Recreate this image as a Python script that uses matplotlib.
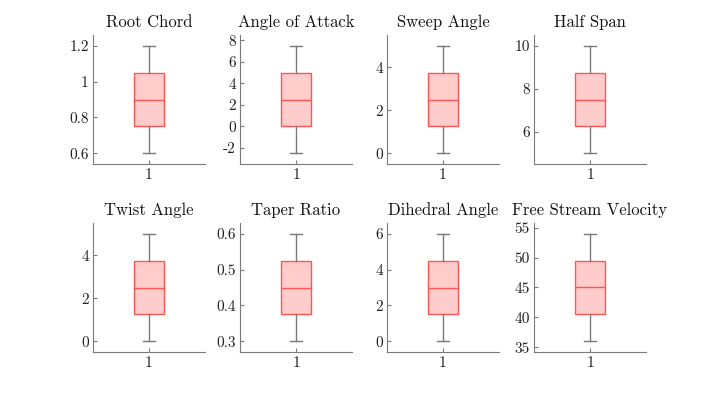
import numpy as np
import matplotlib
matplotlib.use('Agg')
import matplotlib.pyplot as plt
from matplotlib.ticker import FuncFormatter

plt.rcParams['font.family'] = ['cmr10', 'DejaVu Serif']
plt.rcParams['axes.formatter.use_mathtext'] = True

# ============================================
# Данные: min, q1, median, q3, max
# ============================================
names = ["Root Chord", "Angle of Attack", "Sweep Angle", "Half Span",
         "Twist Angle", "Taper Ratio", "Dihedral Angle", "Free Stream Velocity"]
mins = [0.6, -2.5, 0.0, 5.0, 0.0, 0.3, 0.0, 36.0]
q1s = [0.75, 0.0, 1.25, 6.25, 1.25, 0.375, 1.5, 40.5]
medians = [0.9, 2.5, 2.5, 7.5, 2.5, 0.45, 3.0, 45.0]
q3s = [1.05, 5.0, 3.75, 8.75, 3.75, 0.525, 4.5, 49.5]
maxs = [1.2, 7.5, 5.0, 10.0, 5.0, 0.6, 6.0, 54.0]
yticks = [[0.6, 0.8, 1.0, 1.2], [-2, 0, 2, 4, 6, 8], [0, 2, 4], [6, 8, 10],
          [0, 2, 4], [0.3, 0.4, 0.5, 0.6], [0, 2, 4, 6], [35, 40, 45, 50, 55]]

edge = '#ff5555'
face = '#ffcccc'
gray = '#7a7a7a'

fig = plt.figure(figsize=(7.14, 3.96), dpi=100)
W, H = 714, 396
lefts = [93, 240, 387, 534]
tops = [35, 223]
aw, ah = 112, 129

for i, name in enumerate(names):
    r, c = divmod(i, 4)
    ax = fig.add_axes([lefts[c] / W, 1 - (tops[r] + ah) / H, aw / W, ah / H])
    stats = [dict(med=medians[i], q1=q1s[i], q3=q3s[i],
                  whislo=mins[i], whishi=maxs[i], fliers=[])]
    ax.bxp(stats, positions=[1], widths=0.26, patch_artist=True,
           boxprops=dict(facecolor=face, edgecolor=edge, linewidth=1.0),
           medianprops=dict(color=edge, linewidth=1.0),
           whiskerprops=dict(color=gray, linewidth=1.0),
           capprops=dict(color=gray, linewidth=1.0),
           capwidths=0.11)
    rng = maxs[i] - mins[i]
    ax.set_ylim(mins[i] - 0.1 * rng, maxs[i] + 0.1 * rng)
    ax.set_xlim(0.5, 1.5)
    ax.set_yticks(yticks[i])
    ax.yaxis.set_major_formatter(FuncFormatter(lambda v, p: '%g' % v))
    ax.set_xticks([1])
    ax.set_xticklabels(['1'])
    ax.spines['top'].set_visible(False)
    ax.spines['right'].set_visible(False)
    for s in ['left', 'bottom']:
        ax.spines[s].set_color(gray)
        ax.spines[s].set_linewidth(0.8)
    ax.tick_params(direction='in', length=3, width=0.8, color=gray,
                   labelsize=11, labelcolor='#222222', pad=3)
    ax.set_title(name, fontsize=12, pad=6, color='#111111')

fig.savefig('out.png', dpi=100, facecolor='white')
